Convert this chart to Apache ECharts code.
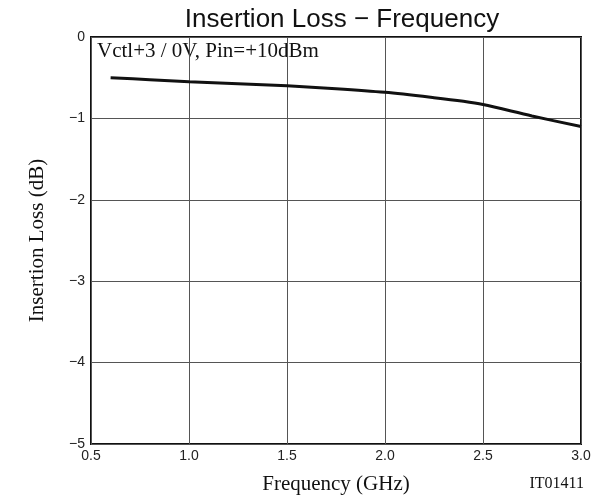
<!DOCTYPE html>
<html><head><meta charset="utf-8">
<script src="https://cdn.jsdelivr.net/npm/echarts@6/dist/echarts.min.js"></script>
<style>html,body{margin:0;padding:0;background:#fff}#c{width:603px;height:500px}</style>
</head><body><div id="c"></div>
<script>
const freq = [0.6, 0.8, 1.0, 1.25, 1.5, 1.75, 2.0, 2.25, 2.4, 2.5, 2.75, 3.0];
const loss = [-0.50, -0.525, -0.55, -0.575, -0.60, -0.635, -0.68, -0.745, -0.79, -0.83, -0.97, -1.10];
const xTicks = ['0.5','1.0','1.5','2.0','2.5','3.0'];
const yTicks = ['0','\u22121','\u22122','\u22123','\u22124','\u22125'];
const chart = echarts.init(document.getElementById('c'), null, {renderer:'canvas'});
chart.setOption({
  animation:false,
  title:{text:'Insertion Loss \u2212 Frequency', left:337, textAlign:'center', top:2,
    textStyle:{fontFamily:'Liberation Sans', fontWeight:'normal', fontSize:26, color:'#111'}},
  grid:{left:91, right:22, top:37, bottom:56, show:true, borderColor:'#111', borderWidth:2, backgroundColor:'transparent'},
  xAxis:{type:'value', min:0.5, max:3.0, interval:0.5,
    name:'Frequency (GHz)', nameLocation:'middle', nameGap:30,
    nameTextStyle:{fontFamily:'Liberation Serif', fontSize:21, color:'#111'},
    axisLine:{show:false}, axisTick:{show:false},
    axisLabel:{fontFamily:'Liberation Sans', fontSize:14, color:'#222', margin:5,
      formatter:(v)=>xTicks[Math.round((v-0.5)/0.5)]},
    splitLine:{show:true, lineStyle:{color:'#555', width:1}}},
  yAxis:{type:'value', min:-5, max:0, interval:1,
    name:'Insertion Loss (dB)', nameLocation:'middle', nameGap:43,
    nameTextStyle:{fontFamily:'Liberation Serif', fontSize:21, color:'#111'},
    axisLine:{show:false}, axisTick:{show:false},
    axisLabel:{fontFamily:'Liberation Sans', fontSize:14, color:'#222', margin:6,
      formatter:(v)=>yTicks[Math.round(-v)]},
    splitLine:{show:true, lineStyle:{color:'#555', width:1}}},
  graphic:[
    {type:'text', left:97, top:41, style:{text:'Vctl+3 / 0V, Pin=+10dBm', font:'21px "Liberation Serif"', fill:'#111'}},
    {type:'text', right:19, top:476, style:{text:'IT01411', font:'16px "Liberation Serif"', fill:'#111'}}
  ],
  series:[{type:'line', data:freq.map((f,i)=>[f,loss[i]]), smooth:0.3, symbol:'none',
    lineStyle:{color:'#111', width:3}}]
});
</script></body></html>
